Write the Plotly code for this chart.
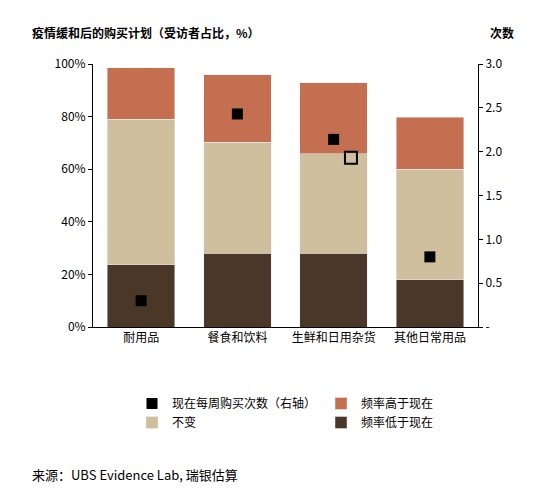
import plotly.graph_objects as go

cats = ["耐用品", "餐食和饮料", "生鲜和日用杂货", "其他日常用品"]
lower = [23.6, 28.0, 28.0, 17.9]
same = [55.4, 42.3, 37.8, 42.1]
higher = [19.5, 25.7, 27.0, 19.8]
freq = [0.30, 2.43, 2.14, 0.80]
hollow_cat = ["生鲜和日用杂货"]
hollow_val = [1.93]

F = "Noto Sans CJK SC"
L, R, T, B = 85, 80, 56, 173
ph = 492 - T - B
pw = 550 - L - R
def px(x): return (x - L) / pw
def py(y): return (492 - B - y) / ph

fig = go.Figure()
fig.add_bar(x=cats, y=lower, name="频率低于现在", marker_color="#4a3728")
fig.add_bar(x=cats, y=same, name="不变", marker_color="#cfbf9d")
fig.add_bar(x=cats, y=higher, name="频率高于现在", marker_color="#c47050")
fig.add_scatter(x=cats, y=freq, name="现在每周购买次数（右轴）", mode="markers",
                marker=dict(symbol="square", size=11, color="black"), yaxis="y2")
fig.add_scatter(x=hollow_cat, y=hollow_val, mode="markers", showlegend=False, yaxis="y2",
                xaxis="x2",
                marker=dict(symbol="square-open", size=12, color="black", line=dict(width=2)))
fig.update_layout(
    width=550, height=492, barmode="stack", bargap=0.3,
    plot_bgcolor="white", paper_bgcolor="white",
    font=dict(family=F, size=12, color="black"),
    margin=dict(l=L, r=R, t=T, b=B),
    xaxis=dict(showline=True, linecolor="black", ticks="", tickfont=dict(size=12)),
    xaxis2=dict(overlaying="x", range=[-0.5 - 0.18, 3.5 - 0.18], type="category",
                categoryarray=cats, categoryorder="array", visible=False),
    yaxis=dict(range=[0, 100], dtick=20, ticksuffix="%", showgrid=False, showline=True,
               linecolor="black", ticks="outside", ticklen=4, tickcolor="black"),
    yaxis2=dict(range=[0, 3], overlaying="y", side="right", showgrid=False,
                showline=True, linecolor="black", ticks="outside", ticklen=4, tickcolor="black",
                tickvals=[0, 0.5, 1, 1.5, 2, 2.5, 3],
                ticktext=["-", "0.5", "1.0", "1.5", "2.0", "2.5", "3.0"]),
    legend=dict(orientation="h", x=0.5, xanchor="center", y=py(405), yanchor="middle",
                font=dict(size=12)),
    annotations=[
        dict(text="<b>疫情缓和后的购买计划（受访者占比，%）</b>", x=px(22), y=py(25),
             xref="paper", yref="paper", showarrow=False, xanchor="left", yanchor="middle",
             font=dict(size=12)),
        dict(text="<b>次数</b>", x=px(494), y=py(25), xref="paper", yref="paper",
             showarrow=False, xanchor="center", yanchor="middle", font=dict(size=12)),
        dict(text="来源：UBS Evidence Lab, 瑞银估算", x=px(22), y=py(466), xref="paper",
             yref="paper", showarrow=False, xanchor="left", yanchor="middle", font=dict(size=13)),
    ],
)
fig.write_html("out.html")
